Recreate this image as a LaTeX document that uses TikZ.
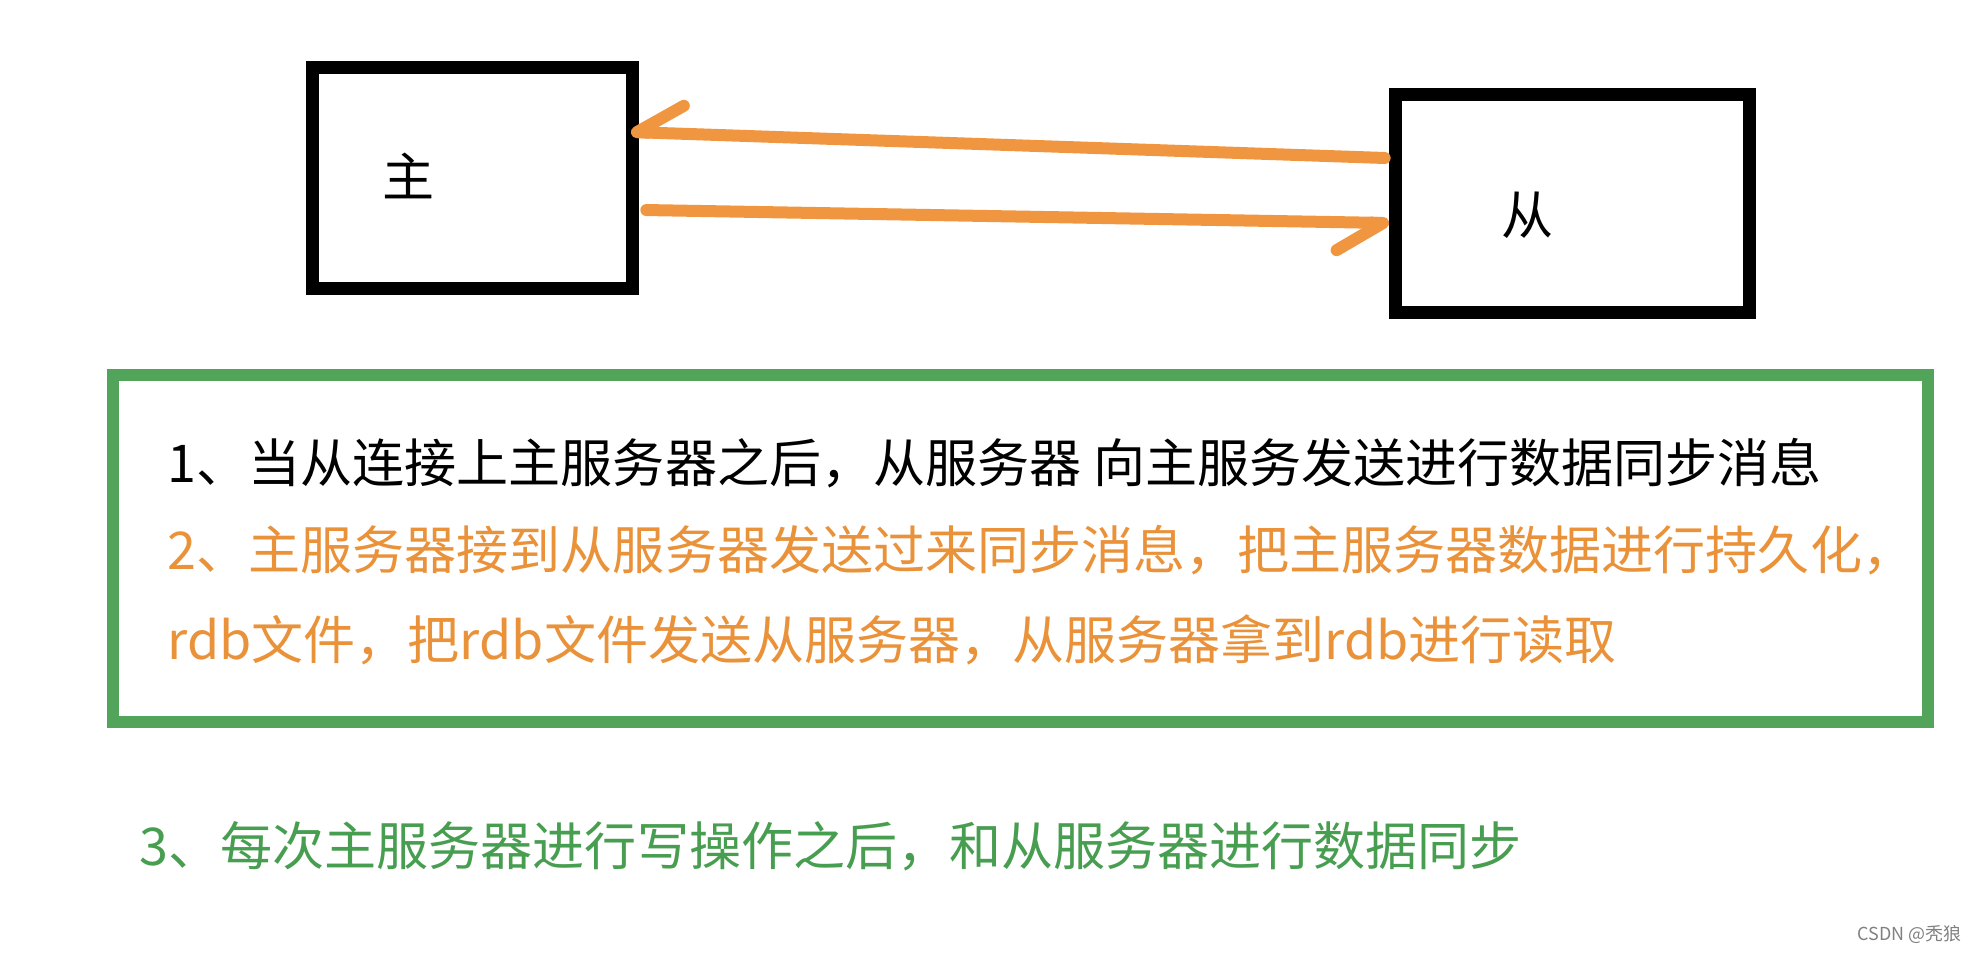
\documentclass[tikz,border=0pt]{standalone}
\usepackage{fontspec}
\setmainfont{Noto Sans CJK SC}
\usetikzlibrary{arrows.meta}

\definecolor{syncOrange}{RGB}{240,150,64}
\definecolor{noteOrange}{RGB}{234,146,58}
\definecolor{frameGreen}{RGB}{82,164,90}
\definecolor{noteGreen}{RGB}{72,158,80}

\begin{document}
\begin{tikzpicture}[x=0.01cm, y=-0.01cm,
    server/.style={draw, line width=0.125cm, inner sep=0pt},
    sync/.style={draw=syncOrange, line width=0.12cm, line cap=round,
      -{Straight Barb[harpoon, swap, round, length=0.46cm, width=0.56cm]}},
    noteline/.style={anchor=base west, inner sep=0pt, font=\fontsize{14.8pt}{18pt}\selectfont}]
    \useasboundingbox (0,0) rectangle (1982,956);
    % the two servers
    \node[server, minimum width=3.2cm, minimum height=2.21cm] (master) at (472.5,178) {};
    \node[server, minimum width=3.54cm, minimum height=2.18cm] (slave) at (1572.5,203.5) {};
    \node[font=\fontsize{14.8pt}{18pt}\selectfont] (masterName) at (409,176) {主};
    \node[font=\fontsize{14.8pt}{18pt}\selectfont] (slaveName) at (1528,215) {从};
    \draw[sync] ([xshift=-0.045cm,yshift=0.455cm]slave.west) -- ([xshift=-0.08cm,yshift=0.46cm]master.east);
    \draw[sync] ([xshift=0.075cm,yshift=-0.32cm]master.east) -- ([yshift=-0.195cm]slave.west);
    % notes
    \node[draw=frameGreen, line width=0.12cm, inner sep=0pt,
      minimum width=18.135cm, minimum height=3.465cm] (frame) at (1020.75,548.25) {};
    \node[noteline] (note1) at (167,482) {1、当从连接上主服务器之后，从服务器 向主服务发送进行数据同步消息};
    \node[noteline, text=noteOrange] (note2) at (167,569) {2、主服务器接到从服务器发送过来同步消息，把主服务器数据进行持久化，};
    \node[noteline, text=noteOrange] (note2b) at (167,659) {rdb文件，把rdb文件发送从服务器，从服务器拿到rdb进行读取};
    \node[noteline, text=noteGreen] (note3) at (139,865) {3、每次主服务器进行写操作之后，和从服务器进行数据同步};
    \node[anchor=base west, inner sep=0pt, text=black!50, font=\fontsize{5.1pt}{6pt}\selectfont] (mark) at (1857,940) {CSDN @秃狼};
\end{tikzpicture}
\end{document}
